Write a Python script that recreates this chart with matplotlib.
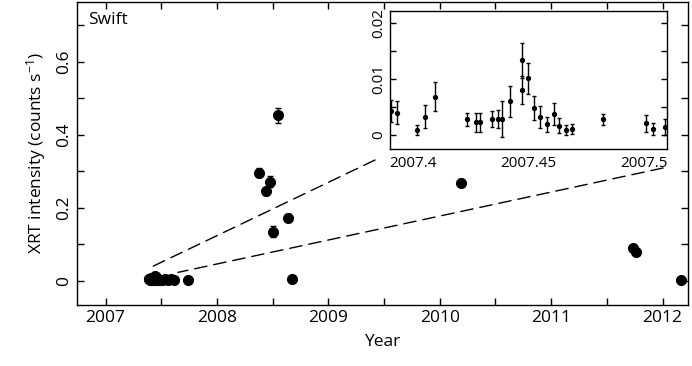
import matplotlib
matplotlib.use("Agg")
import matplotlib.pyplot as plt
from matplotlib.patches import ConnectionPatch
from matplotlib.ticker import MultipleLocator

plt.rcParams["font.family"] = ["Open Sans", "DejaVu Sans"]
plt.rcParams["mathtext.fontset"] = "custom"
plt.rcParams["mathtext.rm"] = "Open Sans"
plt.rcParams["mathtext.it"] = "Open Sans:italic"

# early 2007 outburst (shown in the inset too)
t_zoom = [2007.3906, 2007.3932, 2007.4019, 2007.4050, 2007.4094, 2007.4232,
          2007.4271, 2007.4289, 2007.4341, 2007.4368, 2007.4387, 2007.4420,
          2007.4471, 2007.4473, 2007.4497, 2007.4523, 2007.4551, 2007.4580,
          2007.4609, 2007.4632, 2007.4661, 2007.4687, 2007.4823, 2007.5010,
          2007.5041, 2007.5090]
rate_zoom = [0.0043, 0.0040, 0.0009, 0.0033, 0.0068, 0.0028,
             0.0023, 0.0023, 0.0028, 0.0028, 0.0028, 0.0060,
             0.0081, 0.0133, 0.0101, 0.0048, 0.0032, 0.0019,
             0.0038, 0.0017, 0.0009, 0.0010, 0.0028, 0.0021,
             0.0011, 0.0014]
err_zoom = [0.0020, 0.0020, 0.0009, 0.0020, 0.0026, 0.0012,
            0.0017, 0.0017, 0.0014, 0.0016, 0.0032, 0.0027,
            0.0025, 0.0031, 0.0028, 0.0022, 0.0019, 0.0014,
            0.0020, 0.0013, 0.0009, 0.0009, 0.0010, 0.0015,
            0.0011, 0.0014]

# later observations
t_late = [2007.53, 2007.56, 2007.59, 2007.615, 2007.736,
          2008.379, 2008.442, 2008.478, 2008.502, 2008.544, 2008.639, 2008.675,
          2010.19, 2011.737, 2011.76, 2012.164]
rate_late = [0.004, 0.003, 0.004, 0.003, 0.003,
             0.296, 0.246, 0.271, 0.134, 0.453, 0.173, 0.005,
             0.269, 0.090, 0.080, 0.003]
err_late = [0.001, 0.001, 0.001, 0.001, 0.001,
            0.012, 0.010, 0.015, 0.015, 0.021, 0.010, 0.002,
            0.010, 0.008, 0.008, 0.002]

fig = plt.figure(figsize=(6.92, 3.66), dpi=100)
ax = fig.add_axes([0.111, 0.167, 0.883, 0.828])

ax.errorbar(t_zoom + t_late, rate_zoom + rate_late, yerr=err_zoom + err_late,
            fmt="o", color="black", ms=7, capsize=2.5, elinewidth=1, capthick=1)

ax.set_xlim(2006.742, 2012.227)
ax.set_ylim(-0.066, 0.764)
ax.xaxis.set_major_locator(MultipleLocator(1))
ax.xaxis.set_minor_locator(MultipleLocator(0.5))
ax.yaxis.set_major_locator(MultipleLocator(0.2))
ax.yaxis.set_minor_locator(MultipleLocator(0.1))
ax.yaxis.set_major_formatter(lambda v, p: "0" if abs(v) < 1e-9 else f"{v:.1f}")
ax.tick_params(which="both", direction="in", top=True, right=True,
               labelsize=12.5, length=5, width=1)
ax.tick_params(axis="y", labelrotation=90)
for lab in ax.get_yticklabels():
    lab.set_verticalalignment("center")
ax.set_xlabel("Year", fontsize=12.5, labelpad=6)
ax.set_ylabel("XRT intensity (counts s$^{\\mathregular{-1}}$)", fontsize=12.5,
              labelpad=6)
ax.text(0.018, 0.965, "Swift", transform=ax.transAxes, fontsize=12.5,
        va="top", ha="left")
for s in ax.spines.values():
    s.set_linewidth(1)

# inset
axin = fig.add_axes([390 / 692, 1 - 148.7 / 366, 276.7 / 692, 137.7 / 366])
axin.errorbar(t_zoom, rate_zoom, yerr=err_zoom, fmt="o", color="black",
              ms=2.8, capsize=1.5, elinewidth=1, capthick=1)
axin.set_xlim(2007.39, 2007.5099)
axin.set_ylim(-0.00243, 0.0221)
axin.xaxis.set_major_locator(MultipleLocator(0.05))
axin.yaxis.set_major_locator(MultipleLocator(0.01))
axin.yaxis.set_minor_locator(MultipleLocator(0.005))
axin.xaxis.set_major_formatter(lambda v, p: f"{v:g}")
axin.yaxis.set_major_formatter(lambda v, p: "0" if abs(v) < 1e-9 else f"{v:g}")
axin.tick_params(which="both", direction="in", right=True, labelsize=11,
                 length=4, width=1, pad=3)
axin.tick_params(axis="x", length=0, pad=5)
axin.tick_params(axis="y", labelrotation=90)
for lab in axin.get_yticklabels():
    lab.set_verticalalignment("center")
for s in axin.spines.values():
    s.set_linewidth(1)

# dashed guide lines from the 2007 cluster to the inset
for xa, ya, xb, yb in [(-0.054, -0.082, 2007.40, 0.036),
                       (0.987, -0.14, 2007.65, 0.023)]:
    con = ConnectionPatch(xyA=(xa, ya), coordsA=axin.transAxes,
                          xyB=(xb, yb), coordsB=ax.transData,
                          linestyle=(0, (9, 5)), color="black", lw=1)
    fig.add_artist(con)

fig.savefig("out.png", dpi=100)
